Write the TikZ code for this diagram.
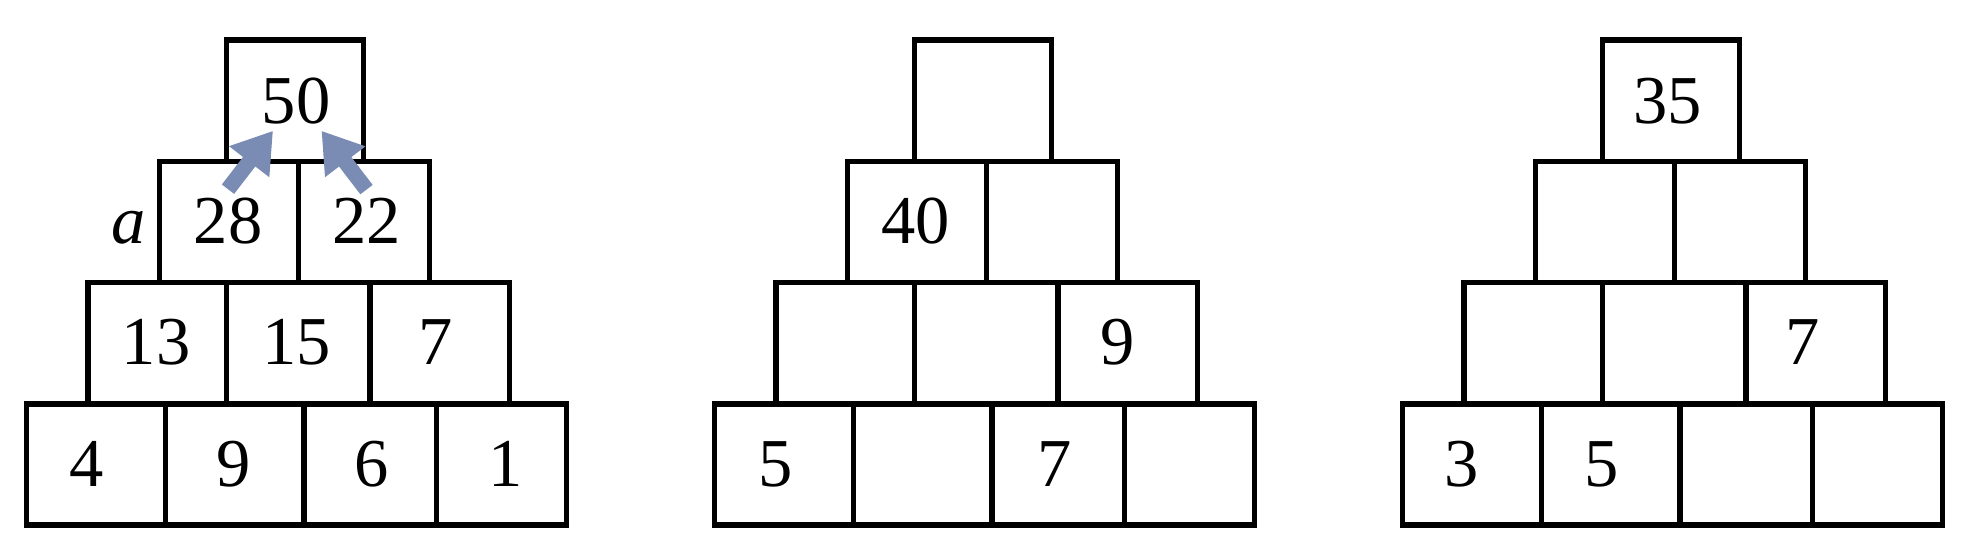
\documentclass[tikz,border=0pt]{standalone}
\usepackage{fontspec}
\setmainfont{Liberation Serif}
\usetikzlibrary{arrows.meta,positioning}
\definecolor{arrowblue}{RGB}{122,140,180}
\tikzset{
  cellline/.style={line width=0.55mm, black},
  num/.style={inner sep=0pt, font=\fontsize{19.5}{24}\selectfont},
  uparrow/.style={-{Triangle[length=3.9mm, width=4.8mm]}, line width=1.55mm, arrowblue},
}
\begin{document}
\begin{tikzpicture}[x=0.1mm, y=0.1mm]
  \def\ch{121.25}
  \def\by{19}
  \def\pgap{688}

  % Fixed bounding box
  \path[use as bounding box] (0,0) rectangle (1966,544);

  % Draw 3 pyramids, rows from bottom to top
  \foreach \p in {0,1,2} {
    \pgfmathsetmacro{\xx}{26.5+\p*\pgap}
    \foreach \r/\rl/\rw/\dl in {0/0/540/{139,277.5,410}, 1/61.5/421.3/{138.3,282}, 2/133/270/{139}, 3/200/137/{0}} {
      \pgfmathsetmacro{\rx}{\xx+\rl}
      \pgfmathsetmacro{\ry}{\by+\r*\ch}
      \draw[cellline] (\rx,\ry) rectangle ++(\rw,\ch);
      \foreach \d in \dl {
        \draw[cellline] ({\rx+\d},\ry) -- ++(0,\ch);
      }
    }
  }

  % Pyramid 1
  \node[num] (n50) at (296,443) {50};
  \node[num] (n28) at (228,323) {28};
  \node[num] (n22) at (366.5,323) {22};
  \node[num] (n13) at (156,202) {13};
  \node[num] (n15) at (296.5,202) {15};
  \node[num] (n7a) at (435.5,202) {7};
  \node[num] (n4) at (87,80) {4};
  \node[num] (n9a) at (234,80) {9};
  \node[num] (n6) at (372,80) {6};
  \node[num] (n1) at (506,80) {1};
  \node[num, left=4.7mm of n28.base west, anchor=base east] (vara) {\textit{a}};

  % Pyramid 2
  \node[num] (n40) at (915.5,323) {40};
  \node[num] (n9b) at (1117.5,202) {9};
  \node[num] (n5a) at (776,80) {5};
  \node[num] (n7b) at (1054.5,80) {7};

  % Pyramid 3
  \node[num] (n35) at (1667.5,443) {35};
  \node[num] (n7c) at (1802.5,202) {7};
  \node[num] (n3) at (1461.5,80) {3};
  \node[num] (n5b) at (1602,80) {5};

  % Arrows from 28 and 22 up to 50
  \draw[uparrow] ([yshift=0.8mm]n28.north) -- ([xshift=-2.3mm,yshift=-0.6mm]n50.south);
  \draw[uparrow] ([yshift=0.8mm]n22.north) -- ([xshift=2.55mm,yshift=-0.6mm]n50.south);

\end{tikzpicture}
\end{document}
